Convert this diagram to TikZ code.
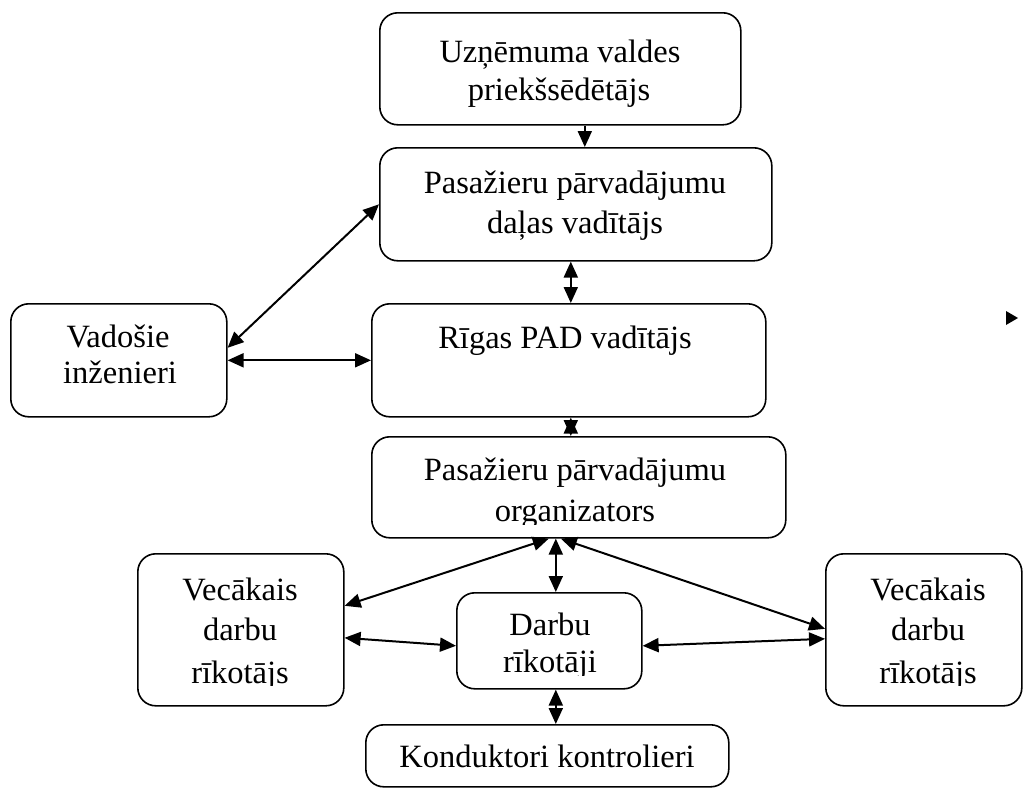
\documentclass[tikz,border=0pt]{standalone}
\usepackage{fontspec}
\setmainfont{Liberation Serif}
\usetikzlibrary{arrows.meta}
\begin{document}
\begin{tikzpicture}[x=1pt,y=-1pt,
  box/.style={draw, line width=1.6pt, rounded corners=18pt, inner sep=0pt, anchor=north west},
  lbl/.style={anchor=base, inner sep=0pt, font=\fontsize{32.5}{40}\selectfont},
  onearrow/.style={line width=2pt, -{Triangle[length=16pt,width=14pt]}},
  twoarrow/.style={line width=2pt, {Triangle[length=16pt,width=14pt]}-{Triangle[length=16pt,width=14pt]}}]
\useasboundingbox (0,0) rectangle (1024,788);

% boxes
\node[box, minimum width=361pt, minimum height=112pt] (chair) at (379,12) {};
\node[box, minimum width=392pt, minimum height=113pt] (dept) at (379,147) {};
\node[box, minimum width=394pt, minimum height=113pt] (pad) at (371,303) {};
\node[box, minimum width=414pt, minimum height=101pt] (org) at (371,436) {};
\node[box, minimum width=216pt, minimum height=113pt] (eng) at (10,303) {};
\node[box, minimum width=206pt, minimum height=152pt] (senl) at (137,553) {};
\node[box, minimum width=185pt, minimum height=96pt] (work) at (456,592) {};
\node[box, minimum width=196pt, minimum height=152pt] (senr) at (825,553) {};
\node[box, minimum width=363pt, minimum height=62pt] (cond) at (365,724) {};

% labels
\node[lbl] (chairA) at (560,62) {Uzņēmuma valdes};
\node[lbl] (chairB) at (559,100) {priekšsēdētājs};
\node[lbl] (deptA) at (575,193) {Pasažieru pārvadājumu};
\node[lbl] (deptB) at (575,233) {daļas vadītājs};
\node[lbl] (padA) at (565,348) {Rīgas PAD vadītājs};
\node[lbl] (orgA) at (575,480) {Pasažieru pārvadājumu};
\begin{scope}
  \clip (371,490) rectangle (785,524);
  \node[lbl] (orgB) at (575,521) {organizators};
\end{scope}
\node[lbl] (engA) at (118,347) {Vadošie};
\node[lbl] (engB) at (120,383) {inženieri};
\node[lbl] (senlA) at (240,600) {Vecākais};
\node[lbl] (senlB) at (240,640) {darbu};
\begin{scope}
  \clip (137,650) rectangle (343,685);
  \node[lbl] (senlC) at (240,683) {rīkotājs};
\end{scope}
\node[lbl] (workA) at (550,635) {Darbu};
\begin{scope}
  \clip (456,645) rectangle (641,675);
  \node[lbl] (workB) at (550,672) {rīkotāji};
\end{scope}
\node[lbl] (senrA) at (928,600) {Vecākais};
\node[lbl] (senrB) at (928,640) {darbu};
\begin{scope}
  \clip (825,650) rectangle (1021,685);
  \node[lbl] (senrC) at (928,683) {rīkotājs};
\end{scope}
\node[lbl] (condA) at (547,767) {Konduktori kontrolieri};

% connectors
\draw[onearrow] ([xshift=24.5pt]chair.south) -- ([xshift=9pt]dept.north);
\draw[twoarrow] ([xshift=-5pt]dept.south) -- ([xshift=2pt]pad.north);
\draw[twoarrow] ([xshift=2pt]pad.south) -- ([xshift=-8pt]org.north);
\draw[twoarrow] ([yshift=12.5pt]eng.east) -- (dept.west);
\draw[twoarrow] (eng.east) -- (pad.west);
\draw[twoarrow] ([xshift=-30pt]org.south) -- ([yshift=24pt]senl.east);
\draw[twoarrow] ([xshift=-23pt]org.south) -- ([xshift=6.5pt]work.north);
\draw[twoarrow] ([xshift=-18pt]org.south) -- ([yshift=1pt]senr.west);
\draw[twoarrow] ([yshift=-8pt]senl.east) -- ([yshift=-5pt]work.west);
\draw[twoarrow] ([yshift=-5pt]work.east) -- ([yshift=-9pt]senr.west);
\draw[twoarrow] ([xshift=6.5pt]work.south) -- ([xshift=8.5pt]cond.north);

% lone arrow head at the right
\coordinate (loneTip) at (1018,318);
\fill (loneTip) -- ++(-12,-7) -- ++(0,14) -- cycle;
\end{tikzpicture}
\end{document}
